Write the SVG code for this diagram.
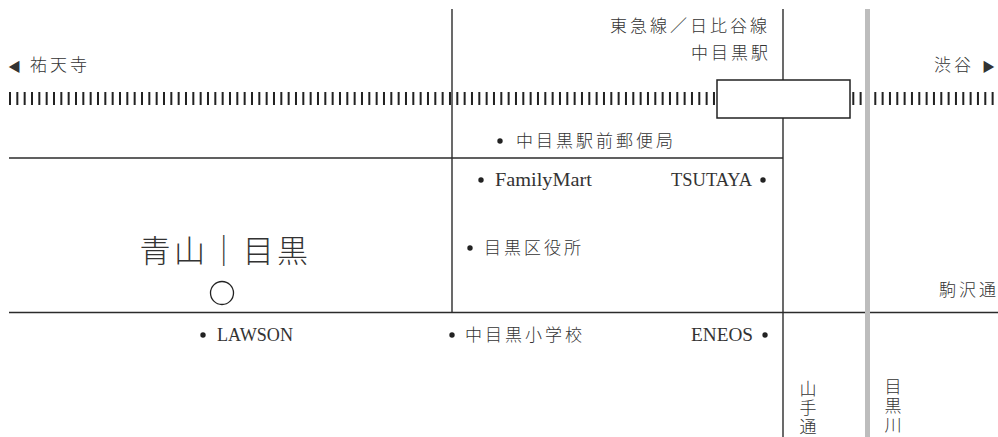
<svg xmlns="http://www.w3.org/2000/svg" width="998" height="437" viewBox="0 0 998 437">
<style>
.road{stroke:#2b2b2b;stroke-width:1.4;fill:none}
.jp{font-family:"Noto Sans CJK JP","Noto Sans",sans-serif;font-size:17px;font-weight:300;fill:#333;letter-spacing:3px}
.en{font-family:"Liberation Serif","DejaVu Serif",serif;font-size:19px;fill:#333}
.dot{fill:#222}
.vt{font-family:"Noto Sans CJK JP","Noto Sans",sans-serif;font-size:17px;font-weight:300;fill:#333;writing-mode:vertical-rl;text-orientation:upright;letter-spacing:2px}
</style>
<rect width="998" height="437" fill="#fff"/>
<g id="connectors">
<line class="road" x1="9" y1="158" x2="783" y2="158"/>
<line class="road" x1="9" y1="312.5" x2="998" y2="312.5"/>
<line class="road" x1="452" y1="9" x2="452" y2="313"/>
<line class="road" x1="783" y1="9" x2="783" y2="437"/>
<line id="rail" x1="9" y1="98.5" x2="994" y2="98.5" stroke="#222" stroke-width="13" stroke-dasharray="2 5.333"/>
<line id="river" x1="867.5" y1="9" x2="867.5" y2="437" stroke="#bdbdbd" stroke-width="5"/>
</g>
<g id="station">
<rect x="717" y="80" width="133" height="38" fill="#fff" stroke="#222" stroke-width="1.5"/>
</g>
<g id="label-station">
<text class="jp" x="610" y="32">東急線／日比谷線</text>
<text class="jp" x="691" y="59">中目黒駅</text>
</g>
<g id="label-yutenji">
<text class="jp" y="71"><tspan x="8" style="font-size:13px">◀</tspan> <tspan x="30">祐天寺</tspan></text>
</g>
<g id="label-shibuya">
<text class="jp" y="71"><tspan x="934">渋谷</tspan> <tspan x="982" style="font-size:13px">▶</tspan></text>
</g>
<g id="post-office">
<circle class="dot" cx="500" cy="141" r="2.7"/>
<text class="jp" x="516" y="147">中目黒駅前郵便局</text>
</g>
<g id="familymart">
<circle class="dot" cx="481" cy="180" r="2.7"/>
<text class="en" x="495" y="186" textLength="97" lengthAdjust="spacingAndGlyphs">FamilyMart</text>
</g>
<g id="tsutaya">
<text class="en" x="671" y="186" textLength="81" lengthAdjust="spacingAndGlyphs">TSUTAYA</text>
<circle class="dot" cx="763" cy="180" r="2.7"/>
</g>
<g id="ward-office">
<circle class="dot" cx="470" cy="248" r="2.7"/>
<text class="jp" x="484" y="254">目黒区役所</text>
</g>
<g id="aoyama">
<text x="139.5" y="262" style="font-family:'Noto Sans CJK JP','Noto Sans',sans-serif;font-size:31px;font-weight:300;fill:#333;letter-spacing:3.4px">青山｜目黒</text>
<circle cx="222" cy="293" r="11.5" fill="none" stroke="#222" stroke-width="1.3"/>
</g>
<g id="komazawa">
<text class="jp" x="939" y="296">駒沢通</text>
</g>
<g id="lawson">
<circle class="dot" cx="203" cy="335" r="2.7"/>
<text class="en" x="217" y="341" textLength="76" lengthAdjust="spacingAndGlyphs">LAWSON</text>
</g>
<g id="school">
<circle class="dot" cx="452" cy="335" r="2.7"/>
<text class="jp" x="465" y="341">中目黒小学校</text>
</g>
<g id="eneos">
<text class="en" x="691" y="341" textLength="62" lengthAdjust="spacingAndGlyphs">ENEOS</text>
<circle class="dot" cx="765" cy="335" r="2.7"/>
</g>
<g id="yamate">
<text class="vt" x="808" y="380">山手通</text>
</g>
<g id="megurogawa">
<text class="vt" x="893" y="378">目黒川</text>
</g>
</svg>
